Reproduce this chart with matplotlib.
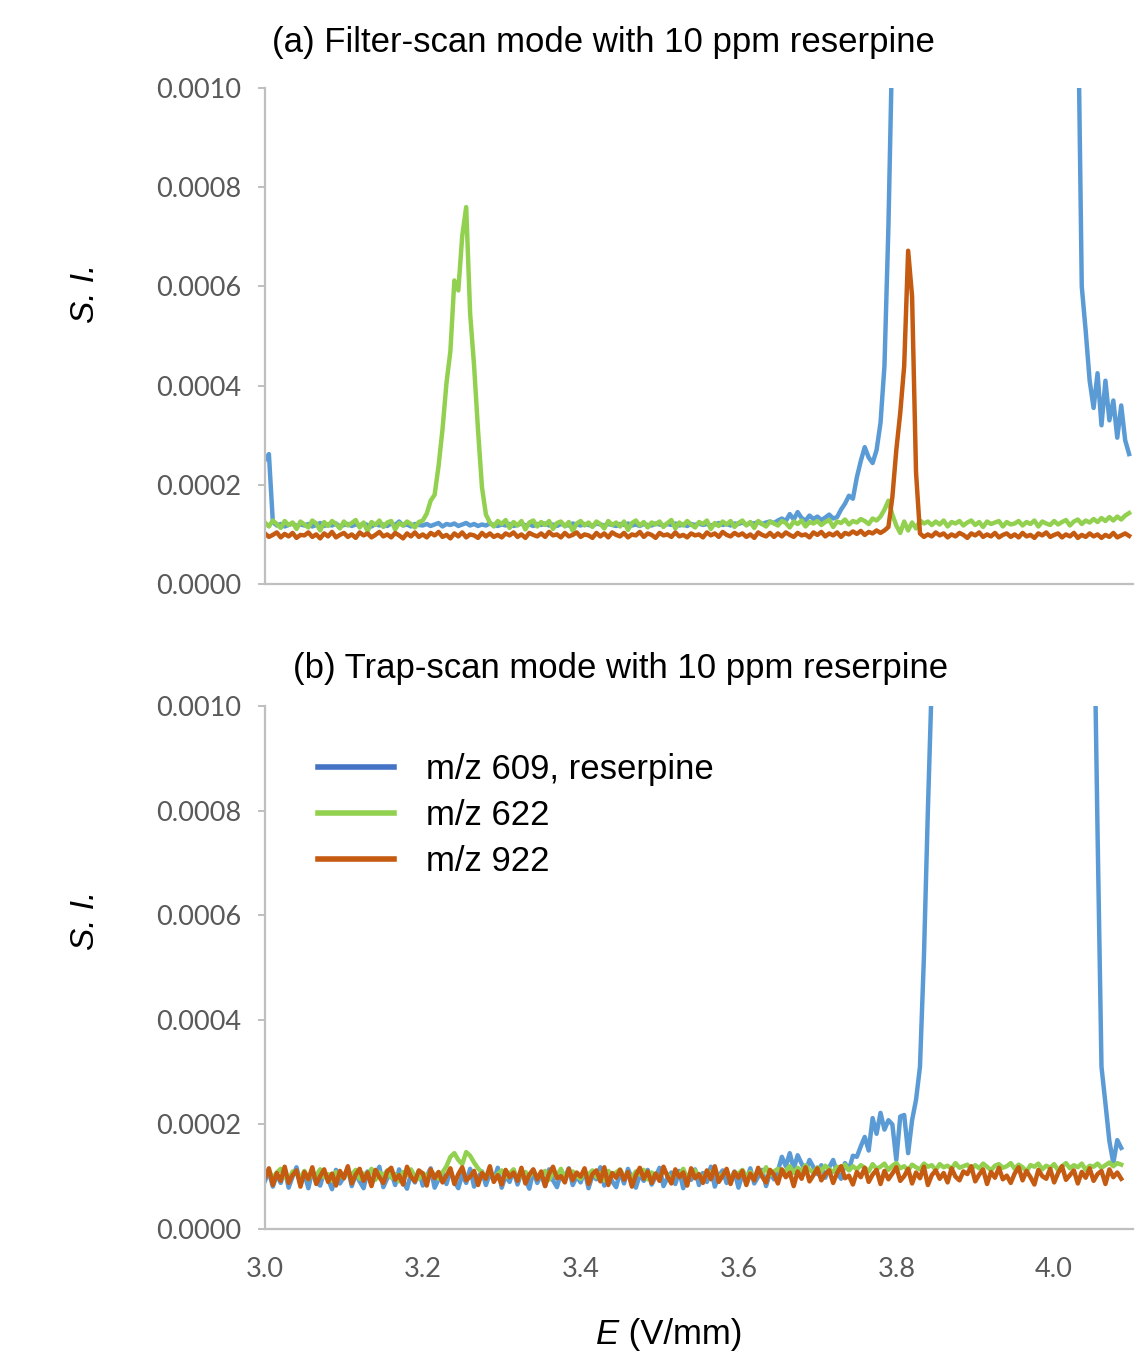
import numpy as np
import matplotlib
matplotlib.use("Agg")
import matplotlib.pyplot as plt
from matplotlib.lines import Line2D

# sampled field (V/mm), step 0.005
E_a = np.round(np.arange(220) * 0.005 + 3.0, 3)   # 3.000 .. 4.095
E_b = np.round(np.arange(218) * 0.005 + 3.0, 3)   # 3.000 .. 4.085

# signal intensity, in units of 1e-6
# (a) filter-scan mode
a_609 = [250, 262, 125, 118, 121, 116, 119, 122, 117, 120,
         118, 121, 116, 119, 123, 117, 120, 118, 122, 116,
         119, 121, 117, 120, 118, 122, 119, 116, 121, 118,
         120, 117, 122, 119, 126, 118, 120, 116, 121, 119,
         118, 121, 117, 120, 123, 116, 121, 119, 122, 117,
         120, 123, 118, 121, 117, 120, 118, 122, 119, 117,
         120, 118, 121, 117, 119, 122, 118, 120, 117, 121,
         119, 122, 118, 120, 117, 121, 119, 118, 122, 120,
         118, 121, 119, 117, 122, 120, 118, 121, 119, 117,
         121, 119, 122, 118, 120, 117, 121, 119, 118, 122,
         120, 118, 121, 119, 122, 118, 120, 117, 121, 119,
         122, 119, 121, 118, 120, 123, 119, 121, 118, 122,
         121, 124, 120, 123, 122, 125, 121, 124, 126, 123,
         128, 132, 127, 141, 130, 145, 133, 128, 138, 131,
         136, 129, 134, 140, 132, 135, 150, 162, 178, 172,
         215, 248, 276, 255, 244, 270, 325, 440, 720, 1100,
         1500, 1500, 1500, 1500, 1500, 1500, 1500, 1500, 1500, 1500,
         1500, 1500, 1500, 1500, 1500, 1500, 1500, 1500, 1500, 1500,
         1500, 1500, 1500, 1500, 1500, 1500, 1500, 1500, 1500, 1500,
         1500, 1500, 1500, 1500, 1500, 1500, 1500, 1500, 1500, 1500,
         1500, 1500, 1500, 1500, 1500, 1500, 1200, 600, 510, 410,
         355, 425, 320, 410, 330, 370, 295, 360, 290, 262]
a_622 = [124, 116, 128, 121, 113, 127, 119, 124, 111, 126,
         120, 114, 128, 122, 108, 125, 117, 127, 121, 112,
         126, 118, 123, 129, 114, 124, 106, 125, 119, 128,
         115, 124, 127, 110, 123, 118, 126, 121, 114, 125,
         128, 142, 168, 180, 238, 312, 405, 470, 612, 592,
         702, 760, 545, 440, 310, 195, 140, 124, 116, 127,
         121, 129, 113, 125, 118, 127, 110, 124, 128, 116,
         125, 119, 127, 111, 123, 126, 116, 125, 107, 122,
         127, 118, 124, 115, 126, 121, 112, 127, 119, 124,
         116, 126, 109, 123, 128, 118, 125, 114, 124, 120,
         126, 115, 123, 129, 112, 124, 118, 127, 120, 114,
         125, 121, 128, 111, 123, 117, 126, 120, 127, 115,
         123, 128, 118, 125, 113, 127, 121, 116, 126, 122,
         118, 127, 123, 114, 126, 121, 128, 116, 125, 122,
         127, 119, 125, 129, 115, 126, 123, 130, 120, 127,
         124, 131, 127, 121, 132, 128, 136, 150, 168, 140,
         118, 103, 126, 108, 124, 112, 128, 122, 126, 119,
         126, 120, 128, 116, 125, 122, 127, 118, 124, 128,
         119, 125, 115, 126, 121, 124, 127, 116, 125, 120,
         122, 127, 118, 125, 121, 128, 116, 126, 122, 119,
         127, 120, 125, 129, 118, 126, 130, 121, 128, 124,
         131, 125, 133, 127, 135, 128, 136, 130, 138, 143]
a_922 = [102, 95, 99, 104, 94, 101, 96, 103, 93, 99,
         98, 104, 95, 100, 92, 102, 96, 105, 94, 99,
         103, 95, 100, 93, 104, 98, 102, 94, 99, 105,
         96, 100, 94, 103, 98, 92, 102, 96, 104, 95,
         100, 94, 103, 98, 105, 95, 99, 92, 102, 96,
         104, 94, 100, 98, 93, 103, 96, 102, 95, 99,
         94, 102, 98, 104, 95, 100, 93, 103, 99, 96,
         102, 95, 105, 98, 100, 94, 103, 96, 99, 104,
         95, 100, 98, 93, 103, 96, 102, 94, 104, 99,
         96, 103, 94, 100, 98, 105, 95, 102, 99, 93,
         103, 98, 100, 95, 104, 96, 99, 94, 102, 98,
         100, 94, 104, 98, 102, 95, 105, 99, 96, 103,
         98, 102, 95, 100, 93, 104, 99, 96, 103, 95,
         102, 96, 104, 99, 95, 103, 98, 100, 94, 104,
         99, 105, 96, 102, 98, 104, 95, 103, 100, 106,
         101, 107, 99, 105, 102, 108, 103, 108, 115, 175,
         270, 345, 440, 672, 580, 225, 102, 95, 100, 96,
         104, 98, 102, 94, 100, 96, 103, 99, 93, 102,
         98, 104, 95, 100, 96, 103, 94, 99, 102, 95,
         100, 94, 103, 96, 99, 93, 102, 98, 104, 95,
         99, 102, 94, 100, 96, 103, 93, 99, 95, 102,
         96, 100, 93, 99, 95, 103, 94, 98, 102, 97]

# (b) trap-scan mode
b_609 = [92, 110, 81, 104, 88, 115, 79, 100, 118, 85,
         106, 78, 112, 90, 83, 109, 95, 76, 113, 87,
         99, 117, 82, 105, 91, 78, 110, 86, 102, 119,
         80, 97, 108, 84, 114, 92, 77, 105, 89, 111,
         83, 101, 116, 79, 95, 108, 86, 112, 91, 78,
         104, 88, 115, 81, 99, 110, 84, 106, 93, 117,
         79, 102, 90, 113, 85, 108, 96, 77, 111, 88,
         105, 82, 114, 93, 80, 107, 98, 116, 84, 101,
         89, 112, 78, 103, 95, 118, 83, 106, 91, 80,
         109, 87, 115, 96, 79, 104, 92, 113, 85, 100,
         117, 82, 98, 108, 86, 111, 78, 103, 94, 114,
         84, 107, 90, 119, 81, 101, 112, 88, 96, 110,
         79, 105, 93, 116, 87, 100, 113, 82, 108, 95,
         111, 138, 120, 145, 115, 141, 125, 110, 132, 118,
         105, 122, 98, 118, 132, 108, 96, 126, 113, 140,
         138, 158, 176, 150, 212, 182, 222, 190, 208, 200,
         132, 215, 218, 145, 208, 247, 310, 520, 800, 1050,
         1500, 1500, 1500, 1500, 1500, 1500, 1500, 1500, 1500, 1500,
         1500, 1500, 1500, 1500, 1500, 1500, 1500, 1500, 1500, 1500,
         1500, 1500, 1500, 1500, 1500, 1500, 1500, 1500, 1500, 1500,
         1500, 1500, 1500, 1500, 1500, 1500, 1500, 1500, 1500, 1500,
         1250, 760, 310, 240, 168, 126, 170, 155]
b_622 = [104, 112, 97, 108, 115, 100, 93, 110, 106, 98,
         111, 95, 107, 102, 114, 99, 105, 92, 109, 103,
         97, 110, 104, 113, 96, 106, 101, 115, 94, 108,
         102, 112, 98, 105, 91, 109, 103, 114, 100, 96,
         107, 99, 111, 104, 96, 108, 120, 138, 145, 132,
         124, 147, 140, 127, 116, 108, 101, 110, 97, 105,
         112, 99, 106, 114, 95, 103, 109, 100, 113, 97,
         105, 111, 94, 108, 102, 115, 98, 106, 110, 101,
         96, 109, 104, 112, 99, 107, 93, 111, 103, 108,
         114, 100, 106, 97, 110, 104, 113, 95, 108, 102,
         99, 111, 105, 92, 109, 103, 115, 98, 106, 112,
         101, 96, 110, 107, 114, 99, 104, 111, 94, 108,
         106, 113, 100, 109, 97, 112, 105, 118, 103, 110,
         115, 104, 112, 120, 107, 117, 110, 122, 113, 108,
         118, 111, 121, 114, 109, 119, 116, 123, 112, 120,
         114, 122, 117, 110, 124, 115, 119, 125, 113, 121,
         126, 116, 120, 112, 123, 118, 114, 125, 119, 122,
         113, 124, 118, 121, 115, 126, 117, 120, 123, 114,
         122, 116, 125, 119, 112, 121, 124, 117, 120, 126,
         115, 123, 118, 110, 122, 119, 125, 114, 121, 117,
         124, 112, 120, 126, 116, 122, 118, 125, 113, 121,
         119, 125, 117, 122, 127, 120, 126, 123]
b_922 = [98, 116, 84, 107, 92, 119, 88, 103, 112, 81,
         109, 95, 118, 86, 101, 114, 90, 106, 83, 111,
         97, 120, 87, 104, 115, 92, 108, 82, 113, 99,
         88, 110, 117, 94, 103, 85, 119, 100, 91, 112,
         106, 83, 114, 97, 109, 89, 102, 116, 86, 105,
         118, 93, 100, 111, 84, 107, 96, 120, 90, 103,
         85, 113, 99, 108, 92, 117, 87, 104, 114, 95,
         110, 82, 106, 119, 97, 101, 89, 115, 93, 108,
         100, 116, 86, 105, 112, 91, 118, 84, 107, 98,
         113, 94, 109, 81, 103, 117, 96, 110, 88, 106,
         92, 119, 101, 87, 114, 99, 108, 83, 116, 97,
         105, 88, 112, 95, 120, 90, 102, 115, 86, 109,
         98, 111, 84, 106, 93, 117, 100, 89, 113, 104,
         87, 114, 99, 108, 82, 110, 96, 118, 91, 103,
         116, 93, 105, 112, 88, 107, 120, 97, 102, 85,
         109, 99, 117, 90, 104, 113, 86, 111, 95, 106,
         118, 92, 101, 115, 87, 108, 97, 119, 84, 103,
         112, 96, 107, 89, 116, 100, 93, 110, 105, 120,
         91, 104, 114, 86, 109, 98, 117, 95, 102, 88,
         106, 118, 93, 111, 99, 85, 113, 101, 96, 115,
         89, 107, 120, 94, 103, 112, 87, 109, 98, 116,
         92, 105, 111, 86, 114, 99, 108, 96]

labels = ['m/z 609, reserpine', 'm/z 622', 'm/z 922']
trace_colors = ['#5B9BD5', '#92D050', '#C55A11']
legend_colors = ['#4472C4', '#92D050', '#C55A11']
yticks = [0.0, 0.0002, 0.0004, 0.0006, 0.0008, 0.0010]
xticks = [3.0, 3.2, 3.4, 3.6, 3.8, 4.0]

txt_font = 'Liberation Sans'
tick_font = 'Lato'
grey = '#BFBFBF'

fig = plt.figure(figsize=(11.43, 13.55), dpi=100)
ax1 = fig.add_axes([0.2318, 0.569, 0.7595, 0.366])
ax2 = fig.add_axes([0.2318, 0.093, 0.7595, 0.386])

def style(ax, show_x):
    ax.set_xlim(3.0, 4.1)
    ax.set_ylim(0, 0.001)
    ax.set_yticks(yticks)
    ax.set_yticklabels(['%.4f' % v for v in yticks], fontfamily=tick_font,
                       fontsize=19.5, color='#595959')
    ax.set_xticks(xticks)
    if show_x:
        ax.set_xticklabels(['%.1f' % v for v in xticks], fontfamily=tick_font,
                           fontsize=19.5, color='#595959')
    else:
        ax.set_xticklabels([])
    for s in ['top', 'right']:
        ax.spines[s].set_visible(False)
    for s in ['left', 'bottom']:
        ax.spines[s].set_color(grey)
        ax.spines[s].set_linewidth(1.6)
    ax.tick_params(axis='y', length=5, width=1.4, color=grey, pad=12)
    ax.tick_params(axis='x', length=0, pad=20)

series_a = [a_609, a_622, a_922]
series_b = [b_609, b_622, b_922]
for ys, c in zip(series_a, trace_colors):
    ax1.plot(E_a, np.array(ys) * 1e-6, color=c, lw=3.2, solid_joinstyle='round')
for ys, c in zip(series_b, trace_colors):
    ax2.plot(E_b, np.array(ys) * 1e-6, color=c, lw=3.2, solid_joinstyle='round')

style(ax1, False)
style(ax2, True)

handles = [Line2D([], [], color=c, lw=4) for c in legend_colors]
ax2.legend(handles, labels, loc='upper left', bbox_to_anchor=(0.061, 0.91),
           frameon=False, borderpad=0, borderaxespad=0, handlelength=2.2,
           handletextpad=0.9, labelspacing=0.38,
           prop={'family': txt_font, 'size': 25})

fig.text(0.5276, 0.969, '(a) Filter-scan mode with 10 ppm reserpine',
         ha='center', va='center', fontsize=25, fontfamily=txt_font)
fig.text(0.5433, 0.5063, '(b) Trap-scan mode with 10 ppm reserpine',
         ha='center', va='center', fontsize=25, fontfamily=txt_font)
for yc in [0.7838, 0.321]:
    fig.text(0.0744, yc, 'S. I.', rotation=90, ha='center', va='center',
             fontsize=24, fontstyle='italic', fontfamily=txt_font)
fig.text(0.5214, 0.0148, 'E', ha='left', va='center', fontsize=25,
         fontstyle='italic', fontfamily=txt_font)
fig.text(0.5416, 0.0148, ' (V/mm)', ha='left', va='center', fontsize=25,
         fontfamily=txt_font)

fig.savefig('out.png', dpi=100)
